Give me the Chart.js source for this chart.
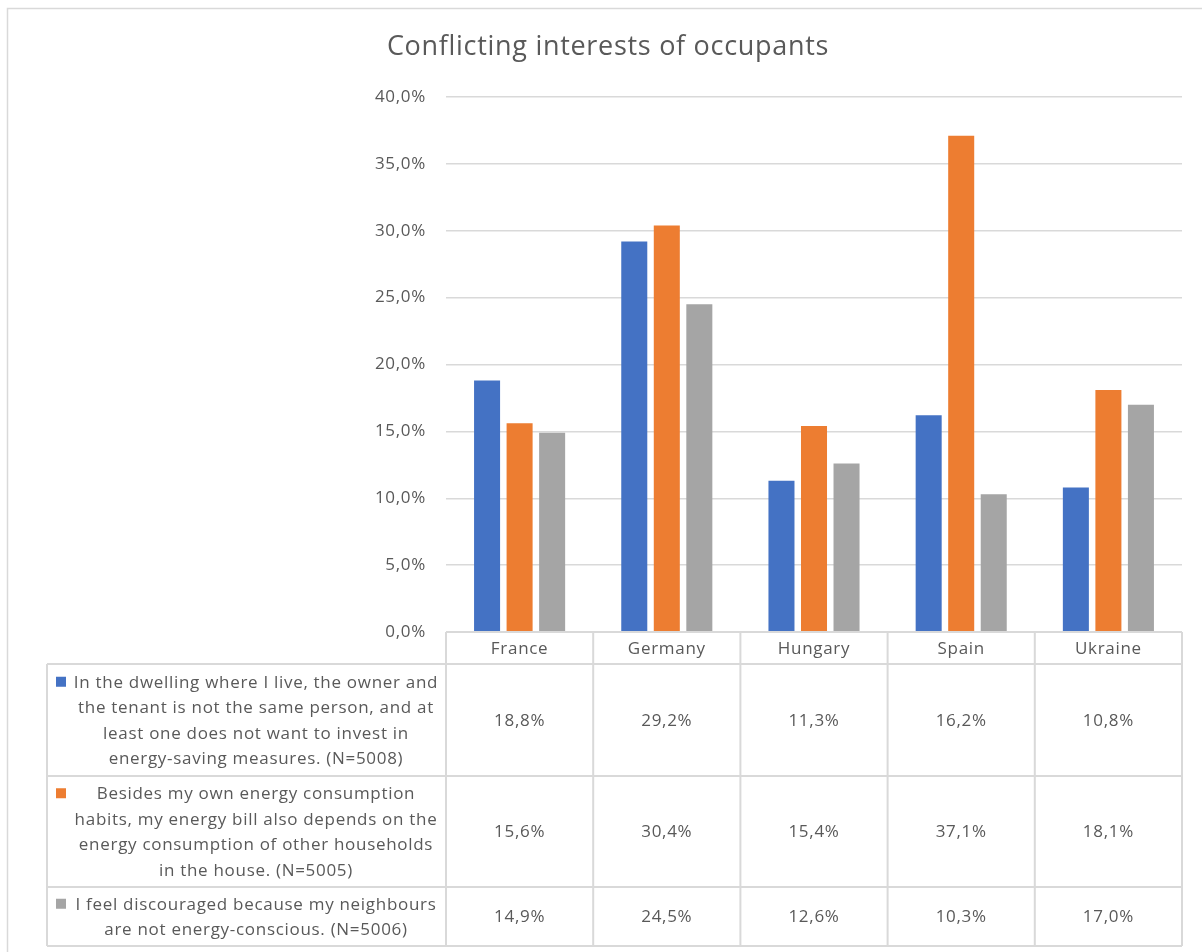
<!DOCTYPE html>
<html>
<head>
<meta charset="utf-8">
<title>Conflicting interests of occupants</title>
<script src="https://cdn.jsdelivr.net/npm/chart.js"></script>
<style>
  html, body { margin: 0; padding: 0; background: #fff; }
  #wrap { width: 1202px; height: 952px; position: relative; }
</style>
</head>
<body>
<div id="wrap"><canvas id="conflictChart" width="1202" height="952"></canvas></div>
<script>
// Survey results per country
const countries = ['France', 'Germany', 'Hungary', 'Spain', 'Ukraine'];
const ownerTenantData = [18.8, 29.2, 11.3, 16.2, 10.8];
const sharedBillData = [15.6, 30.4, 15.4, 37.1, 18.1];
const neighboursData = [14.9, 24.5, 12.6, 10.3, 17.0];

// Row labels of the data table, already broken into lines
const ownerTenantLabel = [
    'In the dwelling where I live, the owner and',
    'the tenant is not the same person, and at',
    'least one does not want to invest in',
    'energy-saving measures. (N=5008)'
];
const sharedBillLabel = [
    'Besides my own energy consumption',
    'habits, my energy bill also depends on the',
    'energy consumption of other households',
    'in the house. (N=5005)'
];
const neighboursLabel = [
    'I feel discouraged because my neighbours',
    'are not energy-conscious. (N=5006)'
];
const chartTitle = 'Conflicting interests of occupants';

const FONT = '"Open Sans", Lato, sans-serif';
const TEXT = '#595959';
const LINE = '#d9d9d9';
const SPACING = '0.7px';

const fmt = v => v.toFixed(1).replace('.', ',') + '%';

// Frame, title and the data table under the plot
const dataTable = {
    id: 'dataTable',
    beforeDraw(chart) {
        const ctx = chart.ctx;
        ctx.letterSpacing = SPACING;
        ctx.save();
        ctx.strokeStyle = LINE;
        ctx.lineWidth = 1.5;
        ctx.strokeRect(7.5, 8.5, 1200, 960);
        ctx.fillStyle = TEXT;
        ctx.font = '27px ' + FONT;
        ctx.textAlign = 'center';
        ctx.textBaseline = 'middle';
        ctx.fillText(chartTitle, 608, 47);
        ctx.restore();
    },
    afterDraw(chart) {
        const ctx = chart.ctx;
        const x = chart.scales.x;
        const area = chart.chartArea;
        const n = countries.length;
        const colW = (area.right - area.left) / n;
        const tableLeft = 47;
        const rowH = [32, 112, 111, 59];
        const rowsY = [area.bottom];
        rowH.forEach(h => rowsY.push(rowsY[rowsY.length - 1] + h));

        ctx.save();
        ctx.strokeStyle = LINE;
        ctx.lineWidth = 2;
        ctx.beginPath();
        // header row
        ctx.moveTo(area.left, rowsY[0]);
        ctx.lineTo(area.right, rowsY[0]);
        for (let r = 1; r < rowsY.length; r++) {
            ctx.moveTo(tableLeft, rowsY[r]);
            ctx.lineTo(area.right, rowsY[r]);
        }
        for (let c = 0; c <= n; c++) {
            const cx = area.left + c * colW;
            ctx.moveTo(cx, rowsY[0]);
            ctx.lineTo(cx, rowsY[rowsY.length - 1]);
        }
        ctx.moveTo(tableLeft, rowsY[1]);
        ctx.lineTo(tableLeft, rowsY[rowsY.length - 1]);
        ctx.stroke();

        ctx.letterSpacing = SPACING;
        ctx.fillStyle = TEXT;
        ctx.font = '17px ' + FONT;
        ctx.textAlign = 'center';
        ctx.textBaseline = 'middle';
        countries.forEach((c, i) => {
            ctx.fillText(c, x.getPixelForValue(i), (rowsY[0] + rowsY[1]) / 2 + 1);
        });

        const lineH = 25.5;
        chart.data.datasets.forEach((ds, r) => {
            const top = rowsY[r + 1];
            const mid = (top + rowsY[r + 2]) / 2 + 1;
            ds.data.forEach((v, i) => {
                ctx.fillStyle = TEXT;
                ctx.fillText(fmt(v), x.getPixelForValue(i), mid);
            });
            const lines = ds.tableLines;
            const firstY = mid - (lines.length - 1) * lineH / 2;
            ctx.fillStyle = ds.backgroundColor;
            ctx.fillRect(56, firstY - 6, 10, 10);
            ctx.fillStyle = TEXT;
            const textX = (66 + area.left) / 2;
            lines.forEach((l, k) => ctx.fillText(l, textX, firstY + k * lineH));
        });
        ctx.restore();
    }
};

new Chart(document.getElementById('conflictChart'), {
    type: 'bar',
    data: {
        labels: countries,
        datasets: [{
            label: ownerTenantLabel.join(' '),
            data: ownerTenantData,
            backgroundColor: '#4472C4',
            tableLines: ownerTenantLabel
        }, {
            label: sharedBillLabel.join(' '),
            data: sharedBillData,
            backgroundColor: '#ED7D31',
            tableLines: sharedBillLabel
        }, {
            label: neighboursLabel.join(' '),
            data: neighboursData,
            backgroundColor: '#A5A5A5',
            tableLines: neighboursLabel
        }]
    },
    options: {
        responsive: false,
        animation: false,
        layout: {
            padding: { left: 0, right: 20, top: 97, bottom: 320 }
        },
        datasets: {
            bar: {
                categoryPercentage: 0.663,
                barPercentage: 0.8
            }
        },
        plugins: {
            legend: { display: false },
            tooltip: { enabled: false },
            title: { display: false }
        },
        scales: {
            x: {
                display: false
            },
            y: {
                min: 0,
                max: 40,
                afterFit(axis) { axis.width = 446; },
                border: { display: false },
                grid: { color: LINE, lineWidth: 1.5, drawTicks: false },
                ticks: {
                    stepSize: 5,
                    padding: 20,
                    color: TEXT,
                    font: { family: FONT, size: 17 },
                    callback: v => fmt(v)
                }
            }
        }
    },
    plugins: [dataTable]
});
</script>
</body>
</html>
